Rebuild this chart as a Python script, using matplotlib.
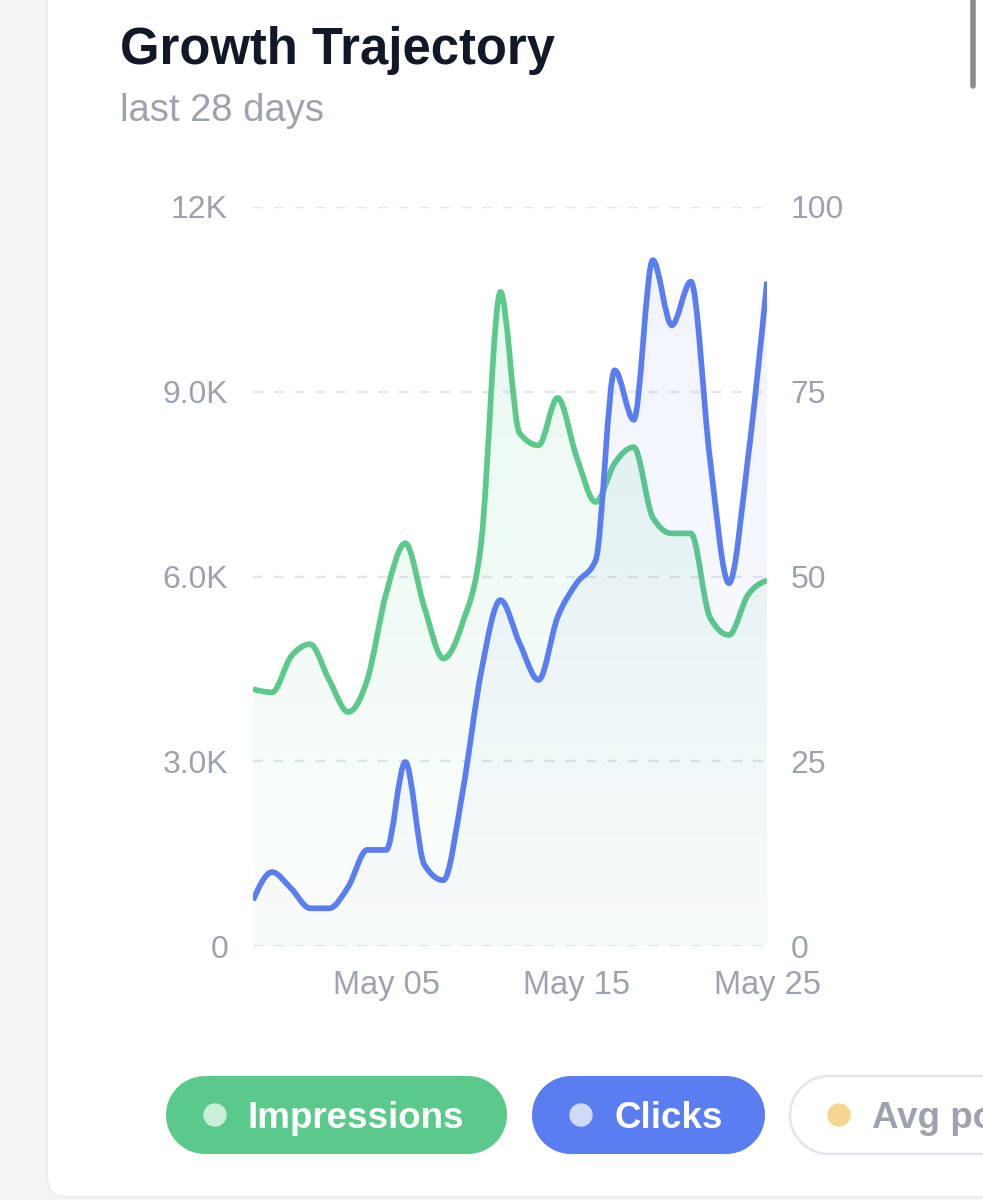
import matplotlib
matplotlib.use('Agg')
import matplotlib.pyplot as plt
import matplotlib.dates as mdates
from matplotlib.path import Path
from matplotlib.patches import PathPatch, Circle
import numpy as np
import pandas as pd

plt.rcParams['font.family'] = ['Liberation Sans', 'DejaVu Sans']
plt.rcParams['lines.scale_dashes'] = False

# data (last 28 days)
dates = pd.date_range('2024-04-28', periods=28)
impressions = [4170, 4120, 4700, 4900, 4320, 3800, 4320, 5730, 6540, 5500,
               4670, 5240, 6590, 10620, 8330, 8130, 8900, 7940, 7210, 7840,
               8100, 6960, 6700, 6700, 5340, 5050, 5700, 5940]
clicks = [6.2, 10.0, 7.8, 5.1, 5.1, 8.0, 13.0, 13.0, 24.9, 11.0,
          8.9, 20.7, 37.3, 46.8, 41.0, 36.0, 44.5, 49.1, 52.2, 77.9,
          71.2, 92.8, 84.0, 89.9, 66.0, 49.1, 66.0, 89.9]
left_ticks = [0, 3000, 6000, 9000, 12000]
left_labels = ['0', '3.0K', '6.0K', '9.0K', '12K']
right_ticks = [0, 25, 50, 75, 100]
xtick_dates = ['2024-05-05', '2024-05-15', '2024-05-25']
legend_items = ['Impressions', 'Clicks', 'Avg position']

GREEN = '#5BC98A'
BLUE = '#5A7DF1'
GRAY = '#9CA3AF'


def monotone_path(x, y):
    # cubic bezier path with monotone slopes (like d3 curveMonotoneX)
    x = np.asarray(x, float)
    y = np.asarray(y, float)
    h = np.diff(x)
    s = np.diff(y) / h
    t = np.zeros(len(x))
    for i in range(1, len(x) - 1):
        p = (s[i-1] * h[i] + s[i] * h[i-1]) / (h[i-1] + h[i])
        t[i] = (np.sign(s[i-1]) + np.sign(s[i])) * min(abs(s[i-1]), abs(s[i]), 0.5 * abs(p))
    t[0] = (3 * s[0] - t[1]) / 2
    t[-1] = (3 * s[-1] - t[-2]) / 2
    verts = [(x[0], y[0])]
    codes = [Path.MOVETO]
    for i in range(len(x) - 1):
        dx = h[i] / 3
        verts += [(x[i] + dx, y[i] + dx * t[i]),
                  (x[i+1] - dx, y[i+1] - dx * t[i+1]),
                  (x[i+1], y[i+1])]
        codes += [Path.CURVE4] * 3
    return verts, codes


def draw_series(ax, x, y, color, top, a_top, a_bot):
    verts, codes = monotone_path(x, y)
    line = PathPatch(Path(verts, codes), fill=False, edgecolor=color, lw=4.1,
                     capstyle='butt', joinstyle='round', zorder=3)
    area_v = verts + [(x[-1], 0), (x[0], 0), (x[0], 0)]
    area_c = codes + [Path.LINETO, Path.LINETO, Path.CLOSEPOLY]
    area = PathPatch(Path(area_v, area_c), facecolor='none', edgecolor='none')
    ax.add_patch(area)
    rgb = matplotlib.colors.to_rgb(color)
    grad = np.zeros((256, 1, 4))
    grad[:, 0, :3] = rgb
    grad[:, 0, 3] = np.linspace(a_top, a_bot, 256)
    im = ax.imshow(grad, extent=[x[0], x[-1], 0, top], aspect='auto',
                   origin='upper', zorder=1, interpolation='bilinear')
    im.set_clip_path(area)
    ax.add_patch(line)


def pill(ax, x0, x1, yc, r, fc, ec):
    # stadium shape: two half circles joined by straight edges
    a = np.linspace(np.pi / 2, 3 * np.pi / 2, 40)
    left = np.column_stack([x0 + r + r * np.cos(a), yc - r * np.sin(a)])
    right = np.column_stack([x1 - r - r * np.cos(a), yc + r * np.sin(a)])
    pts = np.vstack([left, right, left[:1]])
    ax.add_patch(plt.Polygon(pts, closed=True, facecolor=fc, edgecolor=ec,
                             lw=2, zorder=2))


fig = plt.figure(figsize=(9.83, 12), dpi=100)

# background card layer (pixel coordinates)
bg = fig.add_axes([0, 0, 1, 1], zorder=0)
bg.set_xlim(0, 983)
bg.set_ylim(1200, 0)
bg.axis('off')
bg.add_patch(plt.Rectangle((0, 0), 983, 1200, color='#F4F4F6', zorder=0))
card = np.array([[47, -10], [47, 1178], [50, 1190], [58, 1196], [68, 1197],
                 [1000, 1197], [1000, -10]])
bg.add_patch(plt.Polygon(card, closed=True, facecolor='white',
                         edgecolor='#EBEBED', lw=1.2, zorder=1))
bg.plot([973, 973], [0, 86], color='#8C8C8C', lw=4, solid_capstyle='round', zorder=2)

bg.text(120, 64, 'Growth Trajectory', fontsize=36.5, fontweight='bold',
        color='#111827', ha='left', va='baseline')
bg.text(120, 121, 'last 28 days', fontsize=27.5, color=GRAY, ha='left', va='baseline')

# legend pills
pills = [(166, 507, GREEN, '#C8F0DA', 'white', 'none'),
         (532, 765, BLUE, '#D0DBFC', 'white', 'none'),
         (790, 1120, 'white', '#F6D590', GRAY, '#E5E7EB')]
for (x0, x1, fc, dot, tc, ec), label in zip(pills, legend_items):
    pill(bg, x0, x1, 1115, 39, fc, ec)
    bg.add_patch(Circle((x0 + 49, 1115), 11, color=dot, zorder=3))
    bg.text(x0 + 82, 1128, label, fontsize=26.5, fontweight='bold', color=tc,
            ha='left', va='baseline', zorder=4)

# chart
x = mdates.date2num(dates)
ax = fig.add_axes([253 / 983, 254 / 1200, 514 / 983, 739 / 1200], zorder=2)
ax.set_facecolor('none')
ax2 = ax.twinx()

draw_series(ax, x, impressions, GREEN, 12000, 0.15, 0.02)
draw_series(ax2, x, clicks, BLUE, 100, 0.09, 0.02)

ax.set_xlim(x[0], x[-1])
ax.set_ylim(0, 12000)
ax2.set_ylim(0, 100)

ax.set_yticks(left_ticks)
ax.set_yticklabels(left_labels)
ax2.set_yticks(right_ticks)
ax.set_xticks(mdates.date2num(pd.to_datetime(xtick_dates)))
ax.xaxis.set_major_formatter(mdates.DateFormatter('%b %d'))

ax.grid(axis='y', color='#E3E5EA', lw=1.6, linestyle=(0, (7, 8)))
ax.grid(axis='x', visible=False)
ax.set_axisbelow(True)

for a in (ax, ax2):
    for sp in a.spines.values():
        sp.set_visible(False)
ax.tick_params(axis='y', length=0, pad=18, labelsize=23, labelcolor=GRAY)
ax.tick_params(axis='x', length=0, pad=17, labelsize=23.5, labelcolor=GRAY)
ax2.tick_params(axis='y', length=0, pad=17, labelsize=23, labelcolor=GRAY)

fig.savefig('out.png', dpi=100)
